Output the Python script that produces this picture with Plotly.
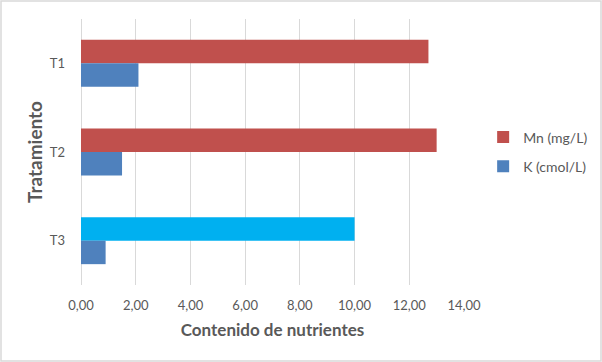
import plotly.graph_objects as go

categories = ["T1", "T2", "T3"]
mn_values = [12.7, 13.0, 10.0]
k_values = [2.1, 1.5, 0.9]
mn_colors = ["#C0504D", "#C0504D", "#00B0F0"]
x_ticks = [0, 2, 4, 6, 8, 10, 12, 14]

FONT = "Lato, 'Open Sans', sans-serif"
GRAY = "#595959"

fig = go.Figure()
fig.add_trace(go.Bar(
    y=categories, x=mn_values, orientation="h", name="Mn (mg/L)",
    marker=dict(color=mn_colors, line=dict(width=0)), legendgroup="mn",
))
fig.add_trace(go.Bar(
    y=categories, x=k_values, orientation="h", name="K (cmol/L)",
    marker=dict(color="#4F81BD", line=dict(width=0)), legendgroup="k",
))

W, H = 602, 362
ml, mr, mt, mb = 81, 138, 19, 77
pw, ph = W - ml - mr, H - mt - mb

fig.update_layout(
    width=W, height=H,
    margin=dict(l=ml, r=mr, t=mt, b=mb, autoexpand=False),
    paper_bgcolor="white", plot_bgcolor="white",
    barmode="group", bargap=0.47, bargroupgap=0,
    separators=", ",
    font=dict(family=FONT, color=GRAY, size=13),
    showlegend=True,
    legend=dict(
        x=1.05, y=0.5, xanchor="left", yanchor="middle",
        traceorder="grouped", tracegroupgap=8,
        font=dict(size=14, color=GRAY),
        itemwidth=30,
    ),
    xaxis=dict(
        range=[0, 14], tickvals=x_ticks, tickformat=".2f",
        showgrid=True, gridcolor="#D9D9D9", gridwidth=1.3,
        zeroline=True, zerolinecolor="#D9D9D9", zerolinewidth=1.3,
        showline=False, ticks="", ticklabelstandoff=11,
        tickfont=dict(size=13, color=GRAY),
        title=dict(text="<b>Contenido de nutrientes</b>", font=dict(size=17, color=GRAY), standoff=12),
        fixedrange=True,
    ),
    yaxis=dict(
        categoryorder="array", categoryarray=categories, autorange="reversed",
        showgrid=False, zeroline=False, showline=False, ticks="",
        ticklabelstandoff=15,
        tickfont=dict(size=13, color=GRAY),
        title=dict(text="<b>Tratamiento</b>", font=dict(size=19, color=GRAY), standoff=2),
        fixedrange=True,
    ),
    shapes=[dict(
        type="rect", xref="paper", yref="paper",
        x0=(1 - ml) / pw, x1=(W - 1 - ml) / pw,
        y0=-(mb - 1) / ph, y1=1 + (mt - 1) / ph,
        line=dict(color="#D9D9D9", width=1.5), fillcolor="rgba(0,0,0,0)",
        layer="below",
    )],
)

fig.write_html(
    "out.html",
    config={"displayModeBar": False},
    post_script="document.body.style.margin='0';document.body.style.overflow='hidden';",
)
